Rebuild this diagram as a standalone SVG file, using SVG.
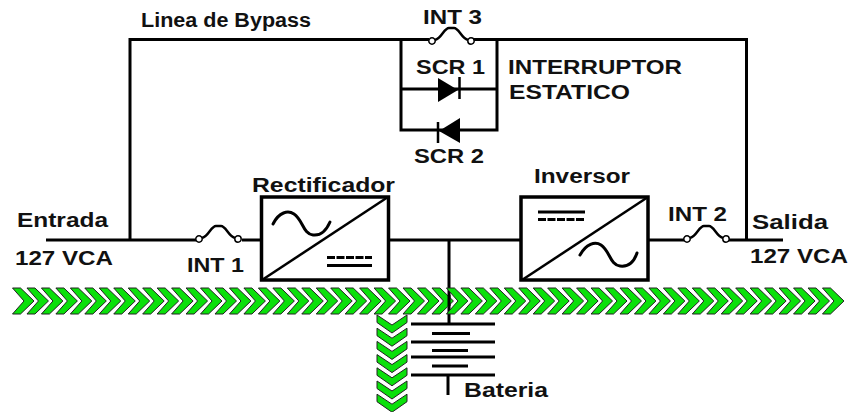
<svg xmlns="http://www.w3.org/2000/svg" xmlns:xlink="http://www.w3.org/1999/xlink" width="851" height="412" viewBox="0 0 851 412">
<style>
text{font-family:"Liberation Sans",Arial,sans-serif;font-weight:bold;font-size:20px;fill:#111}
.w{fill:none;stroke:#000;stroke-width:3}
.t{fill:none;stroke:#000;stroke-width:2.500}
.d{fill:none;stroke:#000;stroke-width:3;stroke-dasharray:8 1.500}
.c{fill:#fff;stroke:#000;stroke-width:1.500}
.box{fill:#fff;stroke:#000;stroke-width:3.500}
.sine{fill:none;stroke:#000;stroke-width:3;stroke-linecap:round}
.ch{fill:#0be00b;stroke:#222;stroke-width:1;stroke-linejoin:miter}
</style>
<defs>
<polygon id="chr" class="ch" points="0.500,0 8.500,0 22,13 8.500,26 0.500,26 12,13"/>
<polygon id="chd" class="ch" points="0,0 15,10 30,0 30,7.500 15,18 0,7.500"/>
<g id="fuse"><path class="t" d="M3,-1C10,-3 12,-13 17,-13H22C27,-13 29,-3 36,-1"/><circle class="c" cx="0" cy="0" r="3.200"/><circle class="c" cx="39" cy="0" r="3.200"/></g>
</defs>
<g id="connectors">
<path class="w" d="M46,240H196M130,240V39.500H429M473,39.500H746.500V240M242,240H262M389,240H520M449,240V324M649,240H684M728,240H783"/>
<path class="w" d="M401,39.500V130H497V39.500M401,89H497"/>
<path class="w" d="M448,375V395"/>
</g>
<g id="banda">
<g id="banda-h">
<use xlink:href="#chr" x="12" y="288"/><use xlink:href="#chr" x="26.460" y="288"/><use xlink:href="#chr" x="40.930" y="288"/><use xlink:href="#chr" x="55.390" y="288"/><use xlink:href="#chr" x="69.860" y="288"/><use xlink:href="#chr" x="84.320" y="288"/><use xlink:href="#chr" x="98.780" y="288"/><use xlink:href="#chr" x="113.250" y="288"/><use xlink:href="#chr" x="127.710" y="288"/><use xlink:href="#chr" x="142.180" y="288"/><use xlink:href="#chr" x="156.640" y="288"/><use xlink:href="#chr" x="171.100" y="288"/><use xlink:href="#chr" x="185.570" y="288"/><use xlink:href="#chr" x="200.030" y="288"/><use xlink:href="#chr" x="214.500" y="288"/><use xlink:href="#chr" x="228.960" y="288"/><use xlink:href="#chr" x="243.420" y="288"/><use xlink:href="#chr" x="257.890" y="288"/><use xlink:href="#chr" x="272.350" y="288"/><use xlink:href="#chr" x="286.820" y="288"/><use xlink:href="#chr" x="301.280" y="288"/><use xlink:href="#chr" x="315.740" y="288"/><use xlink:href="#chr" x="330.210" y="288"/><use xlink:href="#chr" x="344.670" y="288"/><use xlink:href="#chr" x="359.140" y="288"/><use xlink:href="#chr" x="373.600" y="288"/><use xlink:href="#chr" x="388.060" y="288"/><use xlink:href="#chr" x="402.530" y="288"/><use xlink:href="#chr" x="416.990" y="288"/><use xlink:href="#chr" x="431.460" y="288"/><use xlink:href="#chr" x="445.920" y="288"/><use xlink:href="#chr" x="460.380" y="288"/><use xlink:href="#chr" x="474.850" y="288"/><use xlink:href="#chr" x="489.310" y="288"/><use xlink:href="#chr" x="503.780" y="288"/><use xlink:href="#chr" x="518.240" y="288"/><use xlink:href="#chr" x="532.700" y="288"/><use xlink:href="#chr" x="547.170" y="288"/><use xlink:href="#chr" x="561.630" y="288"/><use xlink:href="#chr" x="576.100" y="288"/><use xlink:href="#chr" x="590.560" y="288"/><use xlink:href="#chr" x="605.020" y="288"/><use xlink:href="#chr" x="619.490" y="288"/><use xlink:href="#chr" x="633.950" y="288"/><use xlink:href="#chr" x="648.420" y="288"/><use xlink:href="#chr" x="662.880" y="288"/><use xlink:href="#chr" x="677.340" y="288"/><use xlink:href="#chr" x="691.810" y="288"/><use xlink:href="#chr" x="706.270" y="288"/><use xlink:href="#chr" x="720.740" y="288"/><use xlink:href="#chr" x="735.200" y="288"/><use xlink:href="#chr" x="749.660" y="288"/><use xlink:href="#chr" x="764.130" y="288"/><use xlink:href="#chr" x="778.590" y="288"/><use xlink:href="#chr" x="793.060" y="288"/><use xlink:href="#chr" x="807.520" y="288"/><use xlink:href="#chr" x="821.980" y="288"/>
</g>
<g id="banda-v">
<use xlink:href="#chd" x="377" y="315"/><use xlink:href="#chd" x="377" y="328.200"/><use xlink:href="#chd" x="377" y="341.400"/><use xlink:href="#chd" x="377" y="354.600"/><use xlink:href="#chd" x="377" y="367.800"/><use xlink:href="#chd" x="377" y="381"/><use xlink:href="#chd" x="377" y="394.200"/>
</g>
</g>
<path d="M449,295V306" stroke="#000" stroke-width="3" fill="none"/>
<g id="int3"><use xlink:href="#fuse" x="432" y="41"/><text x="423" y="24" textLength="59" lengthAdjust="spacingAndGlyphs">INT 3</text></g>
<g id="int1"><use xlink:href="#fuse" x="199" y="239"/><text x="187" y="272" textLength="57" lengthAdjust="spacingAndGlyphs">INT 1</text></g>
<g id="int2"><use xlink:href="#fuse" x="687" y="239"/><text x="668" y="221" textLength="59" lengthAdjust="spacingAndGlyphs">INT 2</text></g>
<g id="scr1"><polygon points="438,78 458,90 438,102" fill="#000"/><path class="t" d="M459.500,77V99"/><text x="416" y="74" textLength="69" lengthAdjust="spacingAndGlyphs">SCR 1</text></g>
<g id="scr2"><polygon points="460,118 439,131 460,143" fill="#000"/><path class="t" d="M438,122V143"/><text x="414" y="163" textLength="70" lengthAdjust="spacingAndGlyphs">SCR 2</text></g>
<g id="rectificador">
<rect class="box" x="261.500" y="197" width="127" height="83"/>
<path class="t" d="M262,280L388,197"/>
<path class="sine" d="M273,224C279,212 288,210 294,214C303,220 303,234 313,235C321,236 326,231 330,222"/>
<path class="d" d="M327,257.500H372"/>
<path class="w" d="M327,265.500H372"/>
<text x="252" y="192" textLength="143" lengthAdjust="spacingAndGlyphs">Rectificador</text>
</g>
<g id="inversor">
<rect class="box" x="521" y="197" width="127" height="83"/>
<path class="t" d="M522,280L648,197"/>
<path class="sine" d="M580,255C586,244 595,241 601,245C610,251 610,265 620,266C628,267 634,262 637,253"/>
<path class="w" d="M538,212H585"/>
<path class="d" d="M538,219.500H585"/>
<text x="534" y="183" textLength="96" lengthAdjust="spacingAndGlyphs">Inversor</text>
</g>
<g id="bateria">
<path class="w" d="M411,324H495M432,333.500H470M411,342H495M432,350.500H468M411,357H495M432,366H468M411,375H495"/>
<text x="464" y="397" textLength="84" lengthAdjust="spacingAndGlyphs">Bateria</text>
</g>
<g id="labels">
<text x="141" y="27" textLength="170" lengthAdjust="spacingAndGlyphs">Linea de Bypass</text>
<text x="508" y="74" textLength="174" lengthAdjust="spacingAndGlyphs">INTERRUPTOR</text>
<text x="509" y="99" textLength="121" lengthAdjust="spacingAndGlyphs">ESTATICO</text>
<text x="17" y="227" textLength="91" lengthAdjust="spacingAndGlyphs">Entrada</text>
<text x="15" y="265" textLength="98" lengthAdjust="spacingAndGlyphs">127 VCA</text>
<text x="752" y="229" textLength="76" lengthAdjust="spacingAndGlyphs">Salida</text>
<text x="750" y="263" textLength="98" lengthAdjust="spacingAndGlyphs">127 VCA</text>
</g>
</svg>
